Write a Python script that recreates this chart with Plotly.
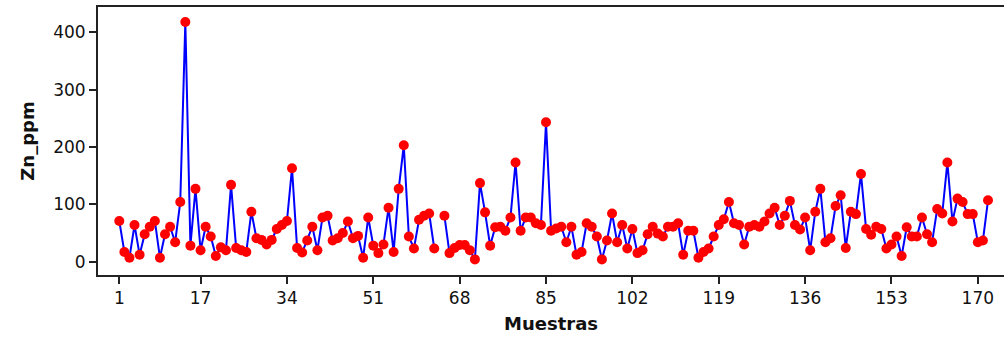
import plotly.graph_objects as go

# Zinc concentration per sample (ppm); sample 64 has no value
muestras = list(range(1, 173))
zn_ppm = [
    71, 17, 7, 64, 12, 48, 61, 71, 7, 48,
    61, 34, 104, 418, 28, 127, 20, 61, 44, 10,
    25, 20, 134, 24, 20, 17, 87, 41, 38, 30,
    38, 57, 64, 71, 163, 24, 16, 37, 61, 20,
    77, 80, 37, 41, 50, 70, 41, 45, 7, 77,
    28, 15, 30, 94, 17, 127, 203, 44, 23, 73,
    80, 84, 23, None, 80, 15, 24, 29, 29, 20,
    4, 137, 86, 28, 60, 61, 54, 77, 173, 54,
    77, 77, 67, 64, 243, 54, 58, 61, 34, 61,
    12, 17, 67, 61, 44, 4, 37, 84, 34, 64,
    23, 57, 15, 20, 48, 61, 49, 44, 61, 61,
    67, 12, 54, 54, 7, 17, 23, 44, 64, 74,
    104, 67, 64, 30, 61, 64, 61, 70, 84, 94,
    64, 80, 106, 64, 56, 77, 20, 87, 127, 34,
    41, 97, 116, 24, 87, 83, 153, 57, 47, 61,
    57, 23, 30, 44, 10, 60, 44, 44, 77, 48,
    34, 92, 84, 173, 70, 110, 104, 83, 83, 34,
    37, 107,
]
x_ticks = [1, 17, 34, 51, 68, 85, 102, 119, 136, 153, 170]
y_ticks = [0, 100, 200, 300, 400]

fig = go.Figure(
    go.Scatter(
        x=muestras,
        y=zn_ppm,
        mode="lines+markers",
        line=dict(color="#0000ff", width=2),
        marker=dict(color="#ff0000", size=10, line=dict(width=0)),
        connectgaps=False,
        hoverinfo="x+y",
    )
)

axis_font = dict(family="DejaVu Sans, Noto Sans, sans-serif", size=17, color="#111")
title_font = dict(family="DejaVu Sans, Noto Sans, sans-serif", size=18, color="#111")

fig.update_layout(
    width=1004,
    height=340,
    margin=dict(l=98, r=0, t=7, b=65),
    paper_bgcolor="white",
    plot_bgcolor="white",
    showlegend=False,
    font=axis_font,
)

fig.update_xaxes(
    range=[-3.19, 175.15],
    tickmode="array",
    tickvals=x_ticks,
    ticktext=[str(t) for t in x_ticks],
    ticks="outside",
    ticklen=7,
    tickwidth=2,
    tickcolor="#222",
    showline=True,
    linecolor="#222",
    linewidth=2,
    mirror=True,
    showgrid=False,
    zeroline=False,
    tickfont=axis_font,
    title=dict(text="<b>Muestras</b>", font=title_font, standoff=10),
)

fig.update_yaxes(
    range=[-23.2, 444.1],
    tickmode="array",
    tickvals=y_ticks,
    ticks="outside",
    ticklen=7,
    tickwidth=2,
    tickcolor="#222",
    showline=True,
    linecolor="#222",
    linewidth=2,
    mirror=False,
    showgrid=False,
    zeroline=False,
    tickfont=axis_font,
    title=dict(text="<b>Zn_ppm</b>", font=title_font, standoff=14),
)

fig.write_html("out.html")
